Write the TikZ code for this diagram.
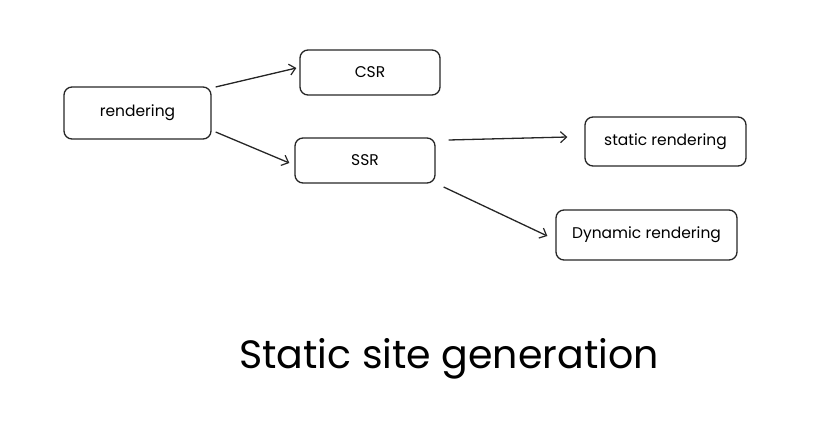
\documentclass[tikz,border=0pt]{standalone}
\usepackage{fontspec}
\setmainfont{Poppins}
\usetikzlibrary{arrows.meta}
\tikzset{
  box/.style={draw=black!85, line width=1.3pt, rounded corners=8pt, inner sep=0pt, font=\fontsize{15.5}{18}\selectfont},
  arr/.style={draw=black!85, line width=1.3pt, -{Straight Barb[length=6pt,width=11pt,line width=1.2pt]}},
  titletext/.style={font=\fontsize{39.5}{46}\selectfont}
}
\begin{document}
\begin{tikzpicture}[x=1pt,y=1pt]
\useasboundingbox (0,0) rectangle (831,-444);
\node[box, minimum width=147pt, minimum height=52pt] (r) at (137.5,-113) {rendering};
\node[box, minimum width=140pt, minimum height=45pt] (csr) at (370,-72.5) {CSR};
\node[box, minimum width=140pt, minimum height=45pt] (ssr) at (365,-160.5) {SSR};
\node[box, minimum width=161pt, minimum height=49pt] (st) at (665.5,-141.5) {static rendering};
\node[box, minimum width=181pt, minimum height=50pt] (dy) at (646.5,-235) {Dynamic rendering};
\node[titletext] (title) at (449,-359) {Static site generation};
\draw[arr] ([shift={(4,26)}]r.east) -- ([shift={(-3,4.5)}]csr.west);
\draw[arr] ([shift={(4,-19)}]r.east) -- ([shift={(-5,-2.5)}]ssr.west);
\draw[arr] ([shift={(13,20.5)}]ssr.east) -- ([shift={(-17,4.5)}]st.west);
\draw[arr] ([shift={(8,-26.5)}]ssr.east) -- ([shift={(-8,-1)}]dy.west);
\end{tikzpicture}
\end{document}
